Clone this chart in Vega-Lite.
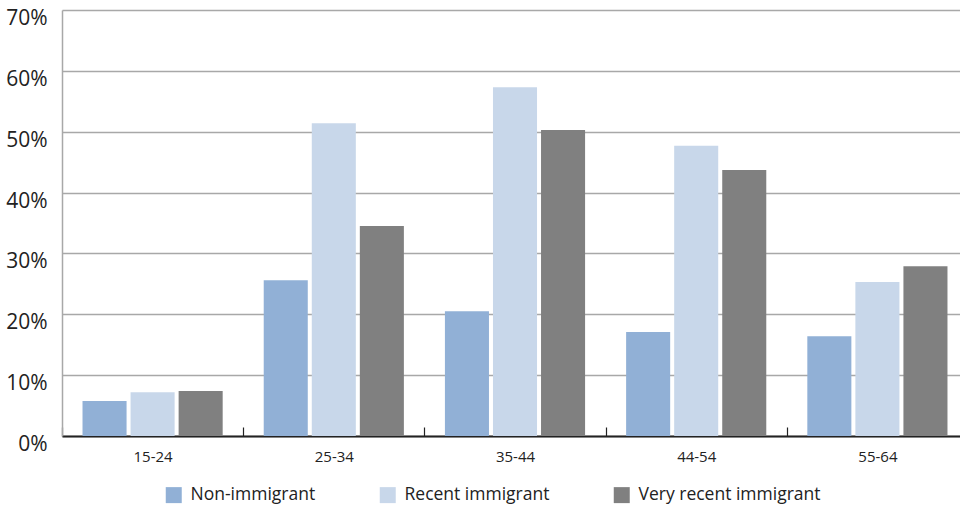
{
  "$schema": "https://vega.github.io/schema/vega-lite/v6.json",
  "width": 906,
  "height": 426,
  "autosize": {"type": "none"},
  "padding": {"left": 62, "top": 10, "right": 0, "bottom": 72},
  "background": "white",
  "config": {
    "view": {"stroke": null},
    "font": "Open Sans",
    "text": {"font": "Open Sans"}
  },
  "data": {
    "values": [
      {"age": "15-24", "group": "Non-immigrant", "value": 5.75},
      {"age": "15-24", "group": "Recent immigrant", "value": 7.2},
      {"age": "15-24", "group": "Very recent immigrant", "value": 7.4},
      {"age": "25-34", "group": "Non-immigrant", "value": 25.6},
      {"age": "25-34", "group": "Recent immigrant", "value": 51.4},
      {"age": "25-34", "group": "Very recent immigrant", "value": 34.5},
      {"age": "35-44", "group": "Non-immigrant", "value": 20.5},
      {"age": "35-44", "group": "Recent immigrant", "value": 57.3},
      {"age": "35-44", "group": "Very recent immigrant", "value": 50.3},
      {"age": "44-54", "group": "Non-immigrant", "value": 17.1},
      {"age": "44-54", "group": "Recent immigrant", "value": 47.7},
      {"age": "44-54", "group": "Very recent immigrant", "value": 43.7},
      {"age": "55-64", "group": "Non-immigrant", "value": 16.4},
      {"age": "55-64", "group": "Recent immigrant", "value": 25.3},
      {"age": "55-64", "group": "Very recent immigrant", "value": 27.9}
    ]
  },
  "mark": {"type": "bar"},
  "encoding": {
    "x": {
      "field": "age",
      "type": "nominal",
      "sort": null,
      "scale": {"paddingInner": 0, "paddingOuter": 0},
      "axis": {
        "title": null,
        "labelAngle": 0,
        "labelFontSize": 15,
        "labelColor": "#222222",
        "labelFont": "Open Sans",
        "tickBand": "extent",
        "tickSize": -9,
        "tickColor": "#222222",
        "tickWidth": 1.2,
        "domainColor": "#222222",
        "domainWidth": 2,
        "labelPadding": 22,
        "grid": false
      }
    },
    "xOffset": {
      "field": "group",
      "type": "nominal",
      "sort": ["Non-immigrant", "Recent immigrant", "Very recent immigrant"],
      "scale": {"paddingInner": 0.0833, "paddingOuter": 0.427}
    },
    "y": {
      "field": "value",
      "type": "quantitative",
      "scale": {"domain": [0, 70], "nice": false},
      "axis": {
        "title": null,
        "values": [0, 10, 20, 30, 40, 50, 60, 70],
        "labelExpr": "datum.value + '%'",
        "labelFontSize": 21,
        "labelColor": "#222222",
        "labelFont": "Open Sans",
        "labelPadding": 15,
        "labelOffset": 8.5,
        "ticks": false,
        "domainColor": "#a8a8a8",
        "domainWidth": 1.5,
        "grid": true,
        "gridColor": "#a8a8a8",
        "gridWidth": 1.5
      }
    },
    "color": {
      "field": "group",
      "type": "nominal",
      "scale": {
        "domain": ["Non-immigrant", "Recent immigrant", "Very recent immigrant"],
        "range": ["#91b0d6", "#c8d7ea", "#808080"]
      },
      "legend": {
        "title": null,
        "orient": "none",
        "direction": "horizontal",
        "legendX": 103,
        "legendY": 476,
        "symbolType": "square",
        "symbolSize": 256,
        "symbolStrokeWidth": 0,
        "labelFontSize": 17.5,
        "labelColor": "#222222",
        "labelFont": "Open Sans",
        "labelOffset": 8,
        "columnPadding": 63,
        "labelLimit": 300
      }
    }
  }
}
